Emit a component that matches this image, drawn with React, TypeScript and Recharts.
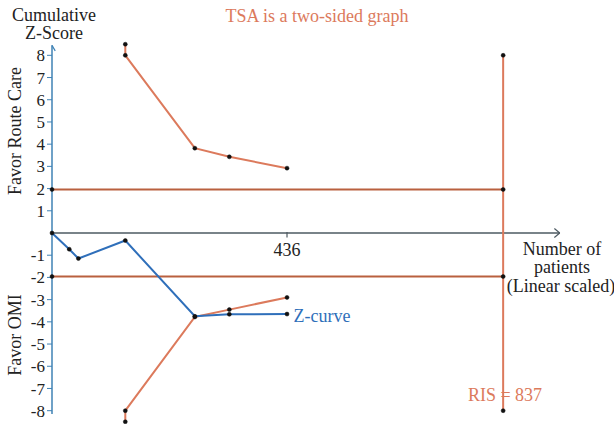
import React from "react";
import { ComposedChart, Line, XAxis, YAxis, ReferenceLine } from "recharts";

// Z-curve (cumulative z-score by number of patients)
const zPatients = [0, 32, 49, 136, 265, 329, 436];
const zScores = [0, -0.73, -1.15, -0.34, -3.75, -3.66, -3.65];

// trial sequential monitoring boundaries
const boundPatients = [136, 136, 265, 329, 436];
const upperBound = [8.5, 8, 3.82, 3.43, 2.92];
const lowerBound = [-8.5, -8, -3.78, -3.45, -2.9];

// conventional boundaries (z = ±1.96) and required information size
const convPatients = [0, 837];
const convUpper = [1.96, 1.96];
const convLower = [-1.96, -1.96];
const risPatients = [837, 837];
const risZ = [8, -8];

const yTicks = [-8, -7, -6, -5, -4, -3, -2, -1, 1, 2, 3, 4, 5, 6, 7, 8];
const xTick = 436;
const xEnd = 942;

const toPoints = (xs: number[], ys: number[]) => xs.map((x, i) => ({ x, y: ys[i] }));

const ORANGE = "#dc7a5c";
const DARK_ORANGE = "#b9603f";
const BLUE = "#2f6fba";
const AXIS_Y = "#3f82b5";
const AXIS_X = "#4d5a62";
const FONT = "'Liberation Serif', 'Times New Roman', serif";

const dot = { r: 2, fill: "#111", stroke: "#111", strokeWidth: 0.5 };

const App: React.FC = () => {
  return (
    <div style={{ position: "absolute", left: 0, top: 0, width: 614, height: 424, background: "#fff", fontFamily: FONT }}>
      <ComposedChart width={614} height={424} margin={{ top: 42, right: 23, bottom: 0, left: 0 }}>
        <XAxis dataKey="x" type="number" domain={[0, 1000]} hide />
        <YAxis
          type="number"
          domain={[-8.6, 8.6]}
          ticks={yTicks}
          width={52}
          axisLine={false}
          tickLine={{ stroke: AXIS_Y }}
          tickSize={5}
          tick={{ fill: "#222", fontSize: 17, fontFamily: FONT }}
          interval={0}
        />
        {/* axes drawn as segments so they cross at zero */}
        <ReferenceLine segment={[{ x: 0, y: -8.15 }, { x: 0, y: 8.45 }]} stroke={AXIS_Y} strokeWidth={1.5} />
        <ReferenceLine segment={[{ x: -6, y: 8.2 }, { x: 0, y: 8.45 }]} stroke={AXIS_Y} strokeWidth={1.2} />
        <ReferenceLine segment={[{ x: 6, y: 8.2 }, { x: 0, y: 8.45 }]} stroke={AXIS_Y} strokeWidth={1.2} />
        <ReferenceLine segment={[{ x: 0, y: 0 }, { x: xEnd, y: 0 }]} stroke={AXIS_X} strokeWidth={1.5} />
        <ReferenceLine segment={[{ x: xEnd - 10, y: 0.2 }, { x: xEnd, y: 0 }]} stroke={AXIS_X} strokeWidth={1.2} />
        <ReferenceLine segment={[{ x: xEnd - 10, y: -0.2 }, { x: xEnd, y: 0 }]} stroke={AXIS_X} strokeWidth={1.2} />
        <ReferenceLine segment={[{ x: xTick, y: 0.05 }, { x: xTick, y: -0.2 }]} stroke={AXIS_X} strokeWidth={1.2} />

        <Line data={toPoints(risPatients, risZ)} dataKey="y" stroke={ORANGE} strokeWidth={2} dot={dot} isAnimationActive={false} />
        <Line data={toPoints(convPatients, convUpper)} dataKey="y" stroke={DARK_ORANGE} strokeWidth={2} dot={dot} isAnimationActive={false} />
        <Line data={toPoints(convPatients, convLower)} dataKey="y" stroke={DARK_ORANGE} strokeWidth={2} dot={dot} isAnimationActive={false} />
        <Line data={toPoints(boundPatients, upperBound)} dataKey="y" stroke={ORANGE} strokeWidth={2} dot={dot} isAnimationActive={false} />
        <Line data={toPoints(boundPatients, lowerBound)} dataKey="y" stroke={ORANGE} strokeWidth={2} dot={dot} isAnimationActive={false} />
        <Line data={toPoints(zPatients, zScores)} dataKey="y" stroke={BLUE} strokeWidth={2} dot={dot} isAnimationActive={false} />
      </ComposedChart>

      <svg width={614} height={424} style={{ position: "absolute", left: 0, top: 0, pointerEvents: "none" }}>
        <g fontFamily={FONT} fontSize={18} dominantBaseline="central" textAnchor="middle" fill="#222">
          <text x={54} y={15}>Cumulative</text>
          <text x={54} y={33}>Z-Score</text>
          <text x={317} y={16} fill={ORANGE}>TSA is a two-sided graph</text>
          <text x={15} y={131} transform="rotate(-90 15 131)">Favor Route Care</text>
          <text x={15} y={335} transform="rotate(-90 15 335)">Favor OMI</text>
          <text x={287} y={250}>436</text>
          <text x={562} y={249}>Number of</text>
          <text x={562} y={267}>patients</text>
          <text x={561} y={286}>(Linear scaled)</text>
          <text x={322} y={316} fill={BLUE}>Z-curve</text>
          <text x={505} y={395} fill={ORANGE}>RIS = 837</text>
        </g>
      </svg>
    </div>
  );
};

export default App;
